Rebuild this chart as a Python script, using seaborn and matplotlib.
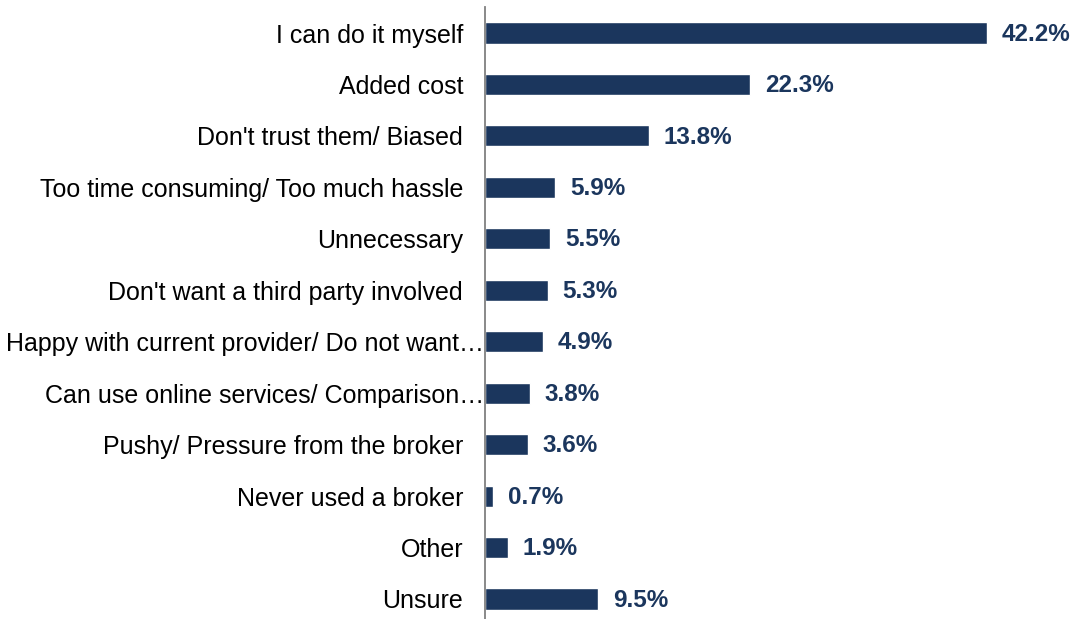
import matplotlib
matplotlib.use("Agg")
import matplotlib.pyplot as plt
import matplotlib.transforms as mtransforms
import seaborn as sns
import pandas as pd

reasons = [
    "I can do it myself",
    "Added cost",
    "Don't trust them/ Biased",
    "Too time consuming/ Too much hassle",
    "Unnecessary",
    "Don't want a third party involved",
    "Happy with current provider/ Do not want\u2026",
    "Can use online services/ Comparison\u2026",
    "Pushy/ Pressure from the broker",
    "Never used a broker",
    "Other",
    "Unsure",
]
shares = [42.2, 22.3, 13.8, 5.9, 5.5, 5.3, 4.9, 3.8, 3.6, 0.7, 1.9, 9.5]
value_labels = [f"{v:.1f}%" for v in shares]

NAVY = "#1b365d"

sns.set_theme(style="white")
plt.rcParams["font.family"] = ["Liberation Sans", "DejaVu Sans"]

df = pd.DataFrame({"reason": reasons, "share": shares})

fig = plt.figure(figsize=(10.77, 6.19), dpi=100)
ax = fig.add_axes([485 / 1077, -5.7 / 619, 592 / 1077, 617.4 / 619])

sns.barplot(data=df, x="share", y="reason", orient="h", color=NAVY,
            saturation=1, width=0.41, ax=ax)

ax.set_xlim(0, 49.75)
ax.set_xlabel("")
ax.set_ylabel("")
ax.set_xticks([])

for cont in ax.containers:
    for rect, lab in zip(cont, value_labels):
        ax.annotate(lab, xy=(rect.get_width(), rect.get_y() + rect.get_height() / 2),
                    xytext=(10.5, -0.8), textcoords="offset points",
                    ha="left", va="center", fontsize=17.5, fontweight="bold",
                    color=NAVY)

ax.tick_params(axis="y", length=0, pad=15.8, labelsize=18, labelcolor="#000000")

# long truncated labels run right up to the axis line
for lbl in ax.get_yticklabels():
    if lbl.get_text().endswith("\u2026"):
        lbl.set_transform(lbl.get_transform() +
                          mtransforms.ScaledTranslation(0.21, 0, fig.dpi_scale_trans))

for side in ["top", "right", "bottom"]:
    ax.spines[side].set_visible(False)
ax.spines["left"].set_color("#808080")
ax.spines["left"].set_linewidth(1.3)

fig.savefig("out.png", dpi=100)
